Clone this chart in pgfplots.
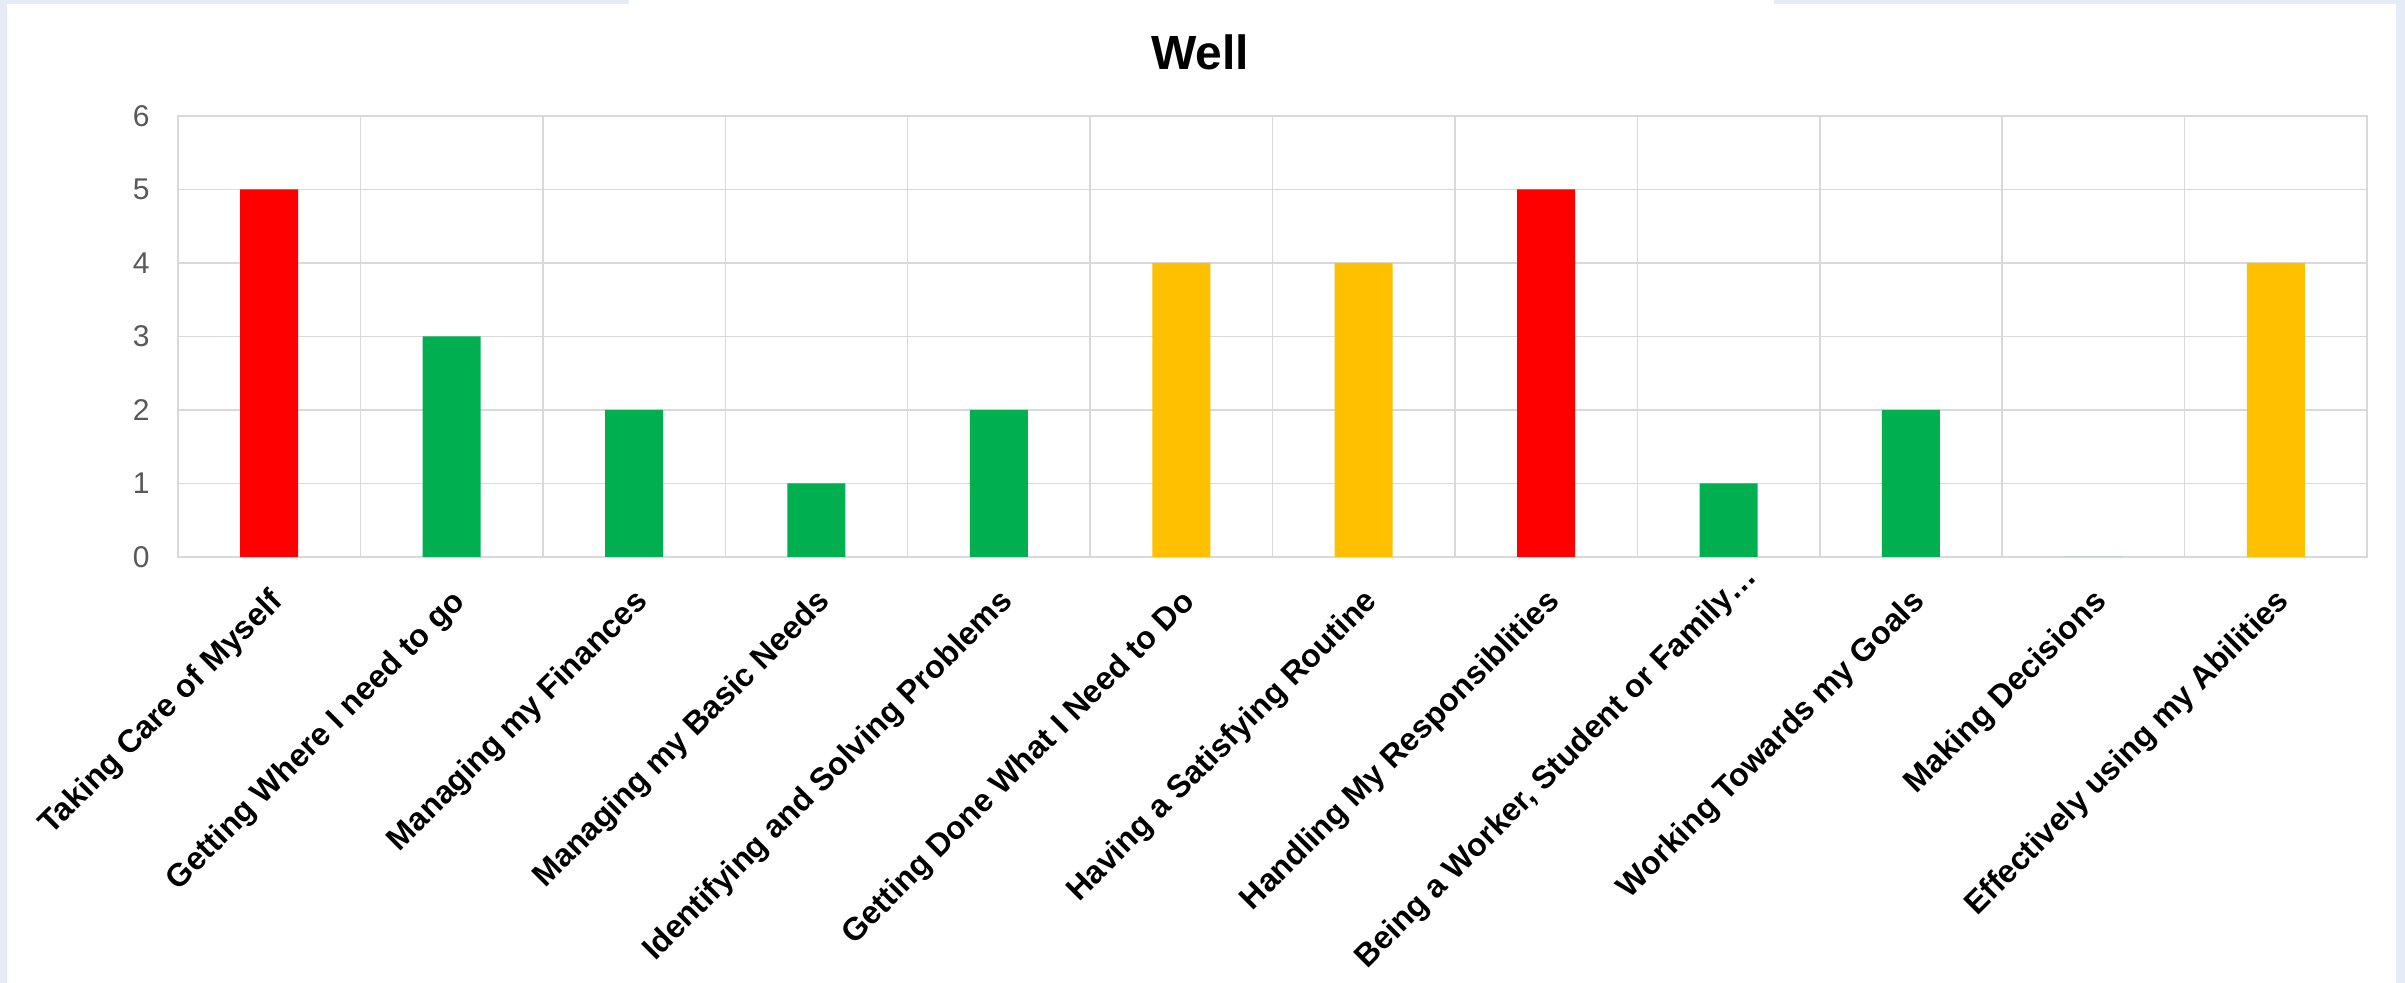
\documentclass[border=0pt]{standalone}
\usepackage{pgfplots}
\pgfplotsset{compat=1.18}
\usepackage{fontspec}
\setmainfont{Liberation Sans}

\definecolor{barred}{HTML}{FF0000}
\definecolor{bargreen}{HTML}{00B050}
\definecolor{baramber}{HTML}{FFC000}
\definecolor{gridgray}{HTML}{D9D9D9}
\definecolor{ticktext}{HTML}{595959}
\definecolor{framebg}{HTML}{E6ECF7}

\begin{document}
\begin{tikzpicture}
  % page area and surrounding panel strips
  \path[use as bounding box] (0,0) rectangle (1202.5pt,491.5pt);
  \fill[white] (0,0) rectangle (1202.5pt,491.5pt);
  \fill[framebg] (0,0) rectangle (3.3pt,491.5pt);
  \fill[framebg] (0,489.3pt) rectangle (314.5pt,491.5pt);
  \fill[framebg] (887pt,489.3pt) rectangle (1202.5pt,491.5pt);
  \fill[framebg] (1198pt,0) rectangle (1202.5pt,491.5pt);

  \node[font=\fontsize{24}{28}\selectfont\bfseries] at (600pt,465.5pt) {Well};

  \begin{axis}[
    at={(89pt,213pt)}, anchor=south west,
    scale only axis,
    width=1094.5pt, height=220.5pt,
    xmin=-0.5, xmax=11.5,
    ymin=0, ymax=6,
    ytick={0,1,2,3,4,5,6},
    xtick={0,...,11},
    xticklabels={
      Taking Care of Myself,
      Getting Where I need to go,
      Managing my Finances,
      Managing my Basic Needs,
      Identifying and Solving Problems,
      Getting Done What I Need to Do,
      Having a Satisfying Routine,
      Handling My Responsiblities,
      {\raisebox{3.5pt}{Being a Worker, Student or Family…}\hspace*{-14pt}},
      Working Towards my Goals,
      Making Decisions,
      Effectively using my Abilities},
    minor xtick={-0.5,0.5,...,11.5},
    xminorgrids, ymajorgrids,
    grid style={gridgray, line width=0.75pt},
    minor grid style={gridgray, line width=0.75pt},
    axis line style={gridgray, line width=0.75pt},
    major tick length=0pt, minor tick length=0pt,
    tick style={draw=none},
    /pgf/number format/assume math mode=true,
    yticklabel style={font=\fontsize{15}{18}\selectfont, text=ticktext, inner sep=0pt},
    yticklabel shift=14pt,
    xticklabel style={font=\fontsize{16}{19}\selectfont\bfseries, text=black,
      xshift=7.5pt, rotate=45, anchor=base east, inner sep=0pt},
    xticklabel shift=23pt,
    ybar, bar width=29pt, bar shift=0pt,
    every axis plot/.append style={draw=none},
  ]
    % red: highest concern
    \addplot[fill=barred] coordinates {(0,5) (7,5)};
    % amber
    \addplot[fill=baramber] coordinates {(5,4) (6,4) (11,4)};
    % green
    \addplot[fill=bargreen] coordinates {(1,3) (2,2) (3,1) (4,2) (8,1) (9,2) (10,0)};
  \end{axis}
\end{tikzpicture}
\end{document}
